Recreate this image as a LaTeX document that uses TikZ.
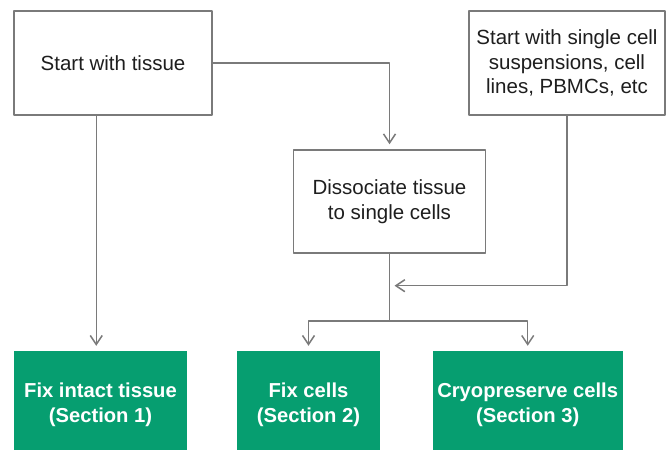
\documentclass[tikz,border=0pt]{standalone}
\usepackage{fontspec}
\setmainfont{Liberation Sans}
\usetikzlibrary{arrows.meta,positioning,calc}
\definecolor{linegray}{HTML}{7A7A7A}
\definecolor{fixgreen}{HTML}{069E70}
\definecolor{textdark}{HTML}{1E1E1E}
\tikzset{
  every picture/.style={line join=round, >={Straight Barb[length=9pt,width=12pt]}},
  startbox/.style={draw=linegray, line width=1.5pt, fill=white, align=center, text=textdark, inner sep=0pt, font=\fontsize{20.5}{24.5}\selectfont},
  fixbox/.style={fill=fixgreen, align=center, text=white, inner sep=0pt, font=\bfseries\fontsize{20.2}{24.5}\selectfont},
  flow/.style={draw=linegray, line width=1.5pt},
  arr/.style={flow, ->, shorten >=5pt},
}

\begin{document}
\begin{tikzpicture}[x=1pt,y=-1pt]
\useasboundingbox (0,0) rectangle (670,450);
% top row
\node[startbox, minimum width=198, minimum height=104] (tissue) at (113,63) {Start with tissue};
\node[startbox, minimum width=196, minimum height=104] (single) at (567,63) {Start with single cell\\suspensions, cell\\lines, PBMCs, etc};
\node[startbox, minimum width=192, minimum height=103] (dissoc) at (389.5,201.5) {Dissociate tissue\\to single cells};
% fixation boxes
\node[fixbox, minimum width=173, minimum height=108] (fix1) at (100.5,405) {Fix intact tissue\\(Section 1)};
\node[fixbox, minimum width=143, minimum height=108] (fix2) at (308.5,405) {Fix cells\\(Section 2)};
\node[fixbox, minimum width=190, minimum height=108] (fix3) at (527.7,405) {Cryopreserve cells\\(Section 3)};
% branch points
\coordinate (split) at (dissoc.south |- 0,321);
\coordinate (merge) at (dissoc.south |- 0,285.7);
% connectors
\draw[arr] ([xshift=83pt]tissue.south west) -- ([xshift=83pt]tissue.south west |- fix1.north);
\draw[arr] (tissue.east) -| (dissoc.north);
\draw[flow] (dissoc.south) -- (split);
\draw[arr] (split) -| (fix2.north);
\draw[arr] (split) -| (fix3.north);
\draw[arr] (single.south) |- (merge);
\end{tikzpicture}
\end{document}
